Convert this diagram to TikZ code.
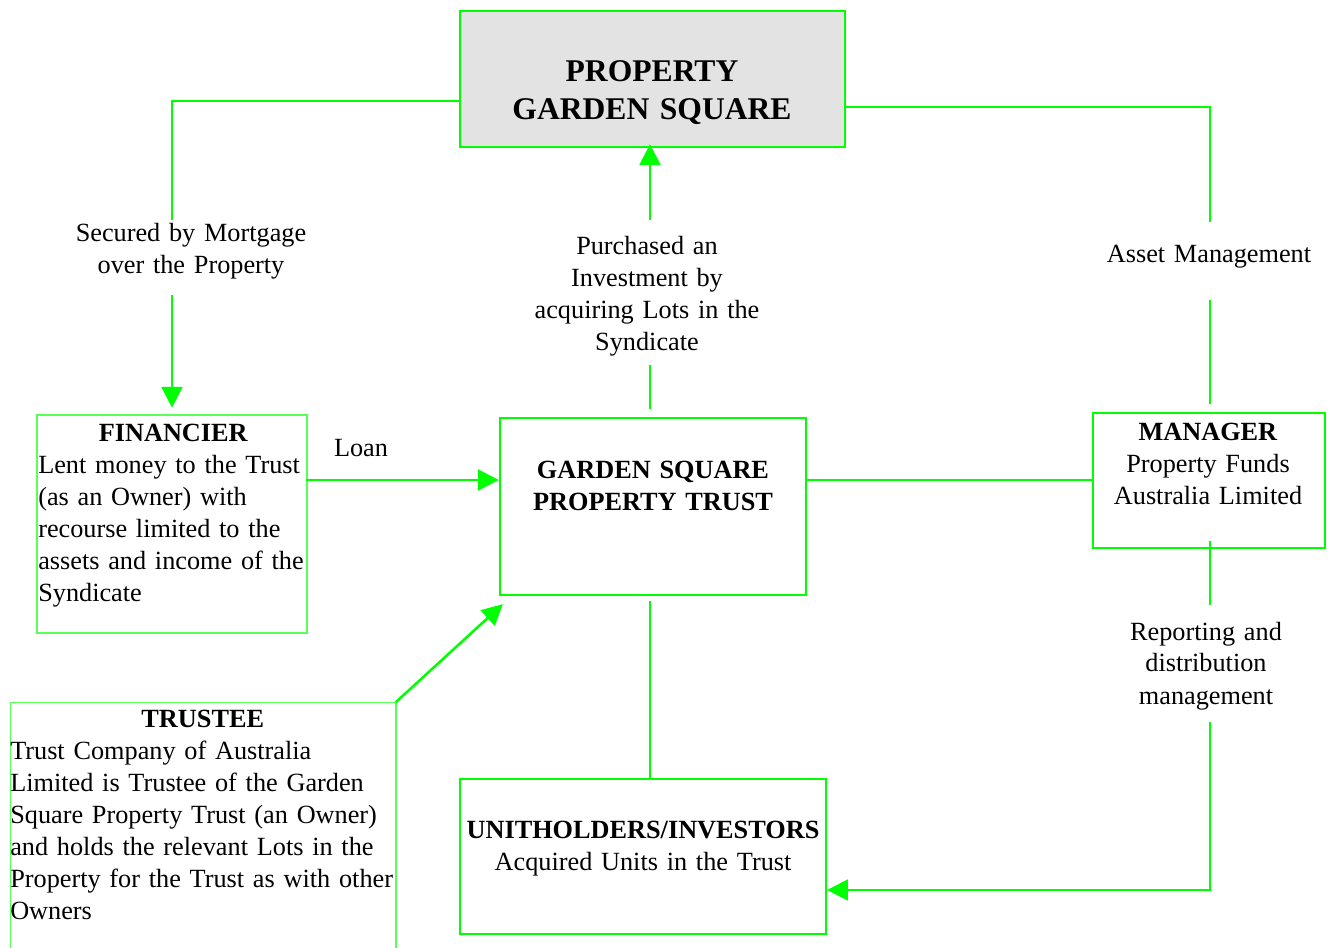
\documentclass[tikz,border=0pt]{standalone}
\usepackage{fontspec}
\setmainfont{Liberation Serif}
\usetikzlibrary{arrows.meta,fit,calc}
\definecolor{lime}{RGB}{0,255,0}
\definecolor{palelime}{RGB}{90,255,90}
\definecolor{boxgray}{RGB}{227,227,227}
\tikzset{
  x=0.75pt, y=-0.75pt,
  frame/.style={draw=lime, line width=1.7pt, inner sep=0pt},
  thinframe/.style={draw=palelime, line width=1pt, inner sep=0pt},
  area/.style={inner sep=0pt},
  conn/.style={draw=lime, line width=1.9pt},
  thinconn/.style={draw=lime, line width=1.5pt},
  arr/.style={-{Triangle[length=15.5pt,width=15.5pt]}},
  body/.style={font=\fontsize{19.7pt}{24pt}\selectfont, inner sep=0pt, text=black},
  ctext/.style={body, align=center, anchor=base, text width=#1},
  ltext/.style={body, align=left, anchor=base west, text width=#1},
}
\begin{document}
\begin{tikzpicture}
\useasboundingbox (0,0) rectangle (1329,948);

% boxes
\node[frame, fill=boxgray, fit={(460,11) (845,147)}] (top) {};
\node[thinframe, fit={(37,415) (307,633)}] (fin) {};
\node[frame, fit={(500,418) (806,595)}] (trust) {};
\node[frame, fit={(1093,413) (1325,548)}] (man) {};
\node[frame, fit={(460,779) (826,934)}] (unit) {};
\node[area, fit={(10.5,702.5) (395.5,948)}] (trustee) {};
\draw[draw=palelime, line width=1.1pt] (trustee.south west) -- (trustee.north west) -- (trustee.north east) -- (trustee.south east);

% box texts
\node[ctext=285pt, font=\fontsize{23.7pt}{28.5pt}\selectfont\bfseries] (toptxt) at (652,82) {PROPERTY\\GARDEN SQUARE};
\node[ltext=215pt] (fintxt) at (38,442) {\makebox[202.5pt]{\bfseries FINANCIER}\\Lent money to the Trust\\(as an Owner) with\\recourse limited to the\\assets and income of the\\Syndicate};
\node[ctext=225pt, font=\fontsize{19.7pt}{24pt}\selectfont\bfseries] (trusttxt) at (653,479) {GARDEN SQUARE\\PROPERTY TRUST};
\node[ctext=170pt] (mantxt) at (1208,441) {\textbf{MANAGER}\\Property Funds\\Australia Limited};
\node[ctext=280pt] (unittxt) at (643,838) {\textbf{UNITHOLDERS/INVESTORS}\\Acquired Units in the Trust};
\node[ltext=305pt] (trusteetxt) at (10,727) {\makebox[288.75pt]{\bfseries TRUSTEE}\\Trust Company of Australia\\Limited is Trustee of the Garden\\Square Property Trust (an Owner)\\and holds the relevant Lots in the\\Property for the Trust as with other\\Owners};

% connector labels
\node[ctext=200pt] (lblmort) at (191,242) {Secured by Mortgage\\over the Property};
\node[ctext=200pt] (lblpur) at (647,255) {Purchased an\\Investment by\\acquiring Lots in the\\Syndicate};
\node[ctext=200pt] (lblasset) at (1209,263) {Asset Management};
\node[ctext=200pt] (lblrep) at (1206,640) {Reporting and\\distribution\\management};
\node[ctext=60pt] (lblloan) at (361,457) {Loan};

% coordinates
\coordinate (m0) at (172,101);
\coordinate (m1) at (172,220);
\coordinate (m2) at (172,295);
\coordinate (a0) at (1210,107);
\coordinate (a1) at (1210,222);
\coordinate (a2) at (1210,300);
\coordinate (p1) at (650,220);
\coordinate (p2) at (650,365);
\coordinate (l0) at (0,480);
\coordinate (r1) at (1210,605);
\coordinate (r2) at (1210,722);
\coordinate (r3) at (1210,890);

% connectors
\draw[conn] (top.west |- m0) -- (m0) -- (m1);
\draw[conn, arr] (m2) -- ([yshift=5pt]fin.north);
\draw[conn] (top.east |- a0) -- (a0) -- (a1);
\draw[conn] (a2) -- ([yshift=6pt]man.north -| a2);
\draw[conn] (trust.north -| p2) ++(0,-8) -- (p2);
\draw[conn, arr, shorten >=-3pt] (p1) -- (top.south -| p1);
\draw[conn, arr] ([xshift=-1.5pt]fin.east |- l0) -- (trust.west |- l0);
\draw[conn] (trust.east |- l0) -- (man.west |- l0);
\draw[thinconn] (trust.south -| p1) ++(0,5) -- (unit.north -| p1);
\draw[conn, arr] (trustee.north east) -- ($(trust.south west)+(4,8)$);
\draw[conn] (man.south -| r1) ++(0,-8) -- (r1);
\draw[conn, arr] (r2) -- (r3) -- (unit.east |- r3);
\end{tikzpicture}
\end{document}
